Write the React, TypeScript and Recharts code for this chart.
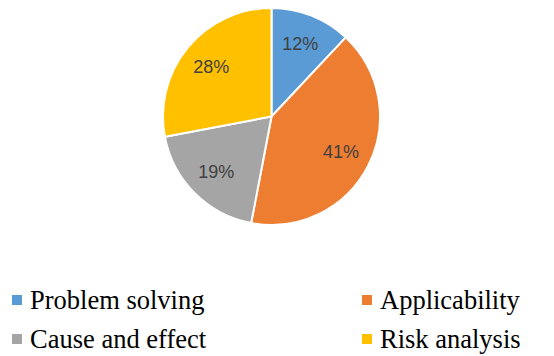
import { PieChart, Pie, Cell, Legend } from "recharts";

document.body.style.margin = "0";

const CATEGORIES = ["Problem solving", "Applicability", "Cause and effect", "Risk analysis"];
const SHARES = [12, 41, 19, 28];
const COLORS = ["#5B9BD5", "#ED7D31", "#A5A5A5", "#FFC000"];

const data = CATEGORIES.map((name, i) => ({ name, value: SHARES[i] }));

const RADIAN = Math.PI / 180;

function SliceLabel(props: any) {
  const { cx, cy, midAngle, outerRadius, value } = props;
  const r = outerRadius * 0.72;
  const x = cx + r * Math.cos(-midAngle * RADIAN);
  const y = cy + r * Math.sin(-midAngle * RADIAN);
  return (
    <text
      x={x}
      y={y}
      fill="#404040"
      fontSize={18}
      fontFamily="'Liberation Sans', Arial, sans-serif"
      textAnchor="middle"
      dominantBaseline="central"
    >
      {`${value}%`}
    </text>
  );
}

function LegendGrid() {
  const cols = [12, 362];
  return (
    <div style={{ position: "relative", width: 554, height: 72 }}>
      {CATEGORIES.map((name, i) => {
        const left = cols[i % 2];
        const top = Math.floor(i / 2) * 39;
        return (
          <div
            key={name}
            style={{
              position: "absolute",
              left,
              top,
              height: 26,
              lineHeight: "26px",
              display: "flex",
              alignItems: "center",
              fontFamily: "'Liberation Serif', 'Times New Roman', serif",
              fontSize: 26.5,
              color: "#000",
              whiteSpace: "nowrap",
            }}
          >
            <span
              style={{
                display: "inline-block",
                width: 10,
                height: 10,
                background: COLORS[i],
                marginRight: 8,
              }}
            />
            {name}
          </div>
        );
      })}
    </div>
  );
}

export default function App() {
  return (
    <PieChart width={554} height={356} margin={{ top: 0, right: 0, bottom: 0, left: 0 }}>
      <Pie
        data={data}
        dataKey="value"
        nameKey="name"
        cx={271.5}
        cy={116.5}
        outerRadius={108.5}
        startAngle={90}
        endAngle={-270}
        stroke="#fff"
        strokeWidth={2}
        label={SliceLabel}
        labelLine={false}
        isAnimationActive={false}
      >
        {data.map((d, i) => (
          <Cell key={d.name} fill={COLORS[i]} />
        ))}
      </Pie>
      <Legend
        verticalAlign="bottom"
        content={() => <LegendGrid />}
        wrapperStyle={{ top: 287, bottom: "auto", left: 0, width: 554 }}
      />
    </PieChart>
  );
}
